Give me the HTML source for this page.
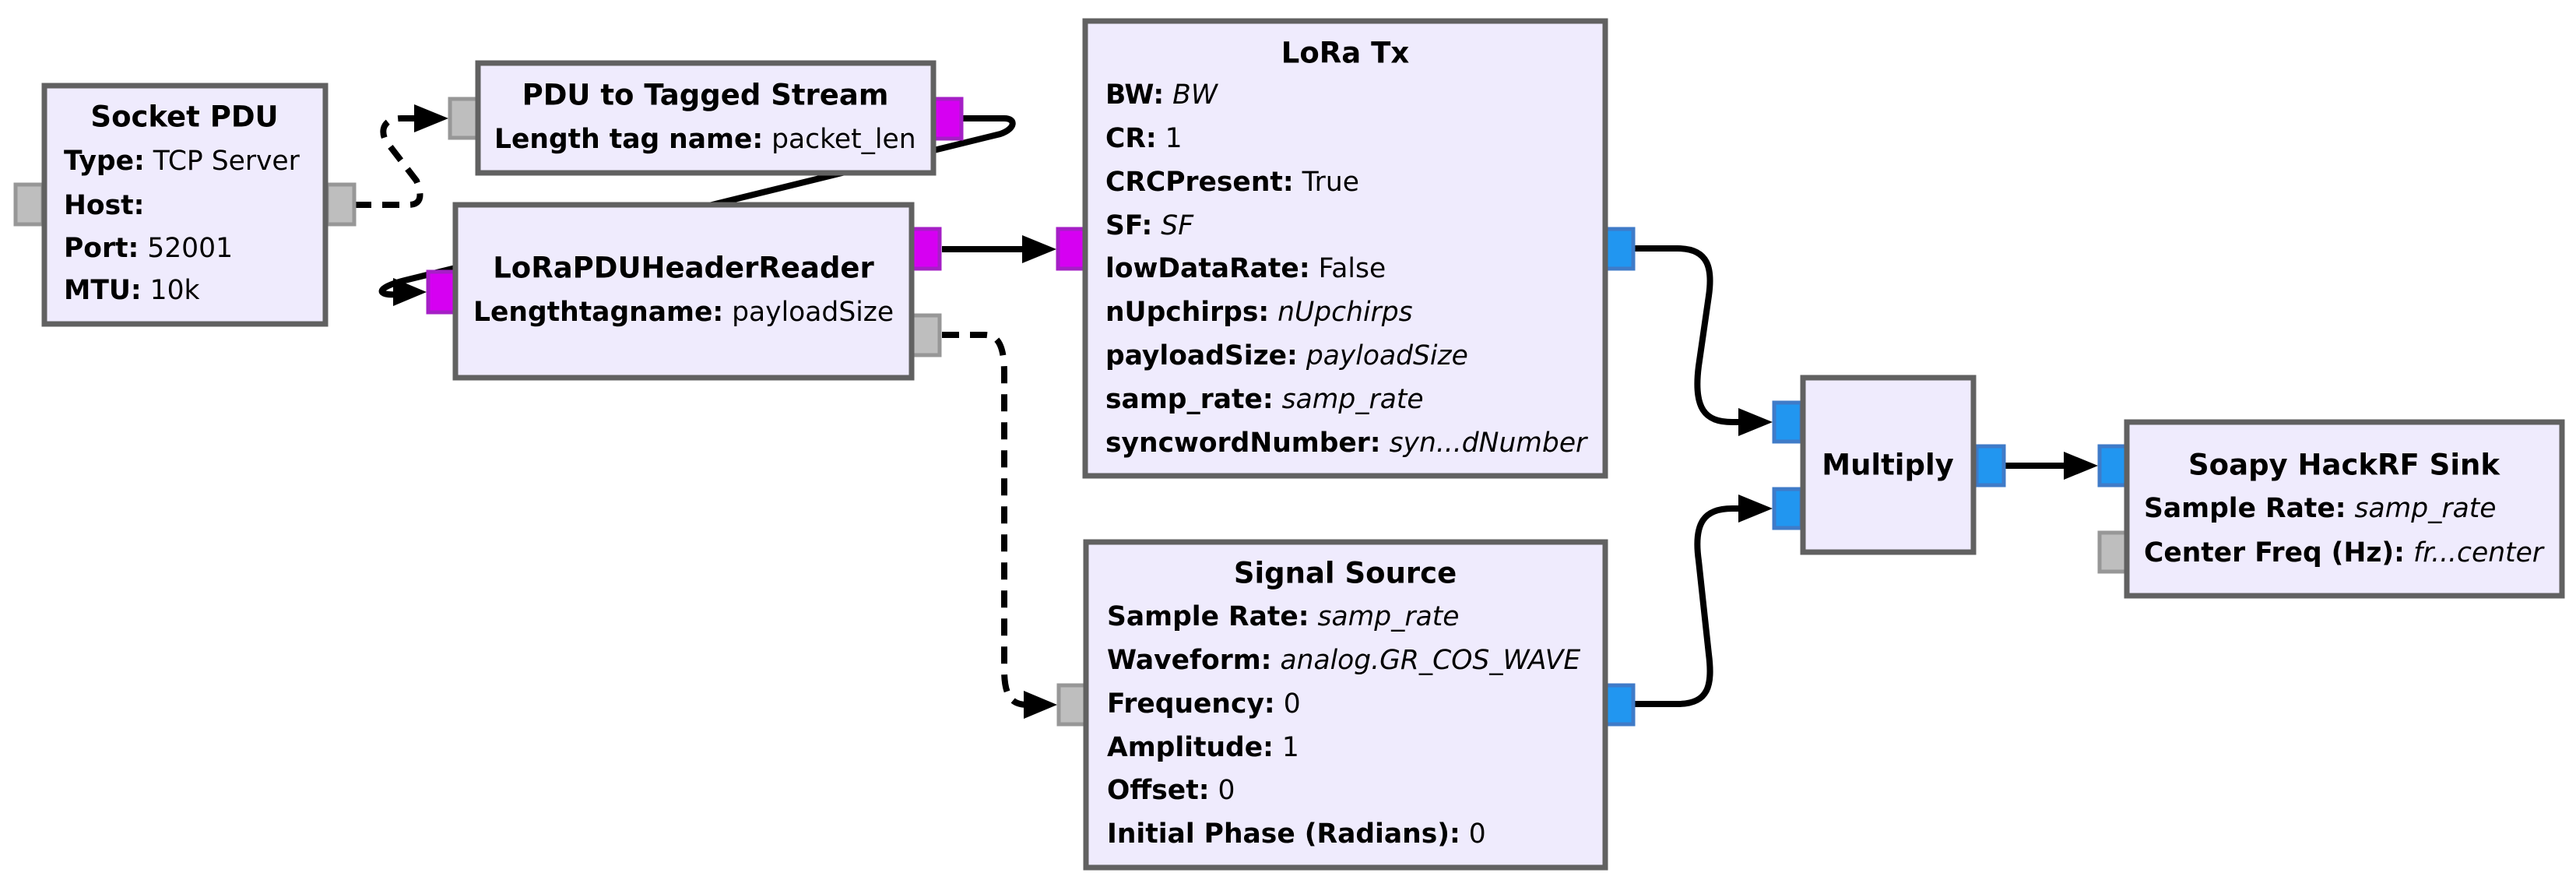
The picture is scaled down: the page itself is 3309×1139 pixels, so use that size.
<!DOCTYPE html>
<html><head><meta charset="utf-8"><style>
html,body{margin:0;padding:0;background:#fff;}
svg{display:block;}
text{font-family:"DejaVu Sans","Liberation Sans",sans-serif;font-size:34.5px;fill:#000;dominant-baseline:central;}
.t{font-weight:bold;text-anchor:middle;font-size:37px;}
.k{font-weight:bold;}
.i{font-style:italic;}
.box{fill:#EFEBFD;stroke:#616161;stroke-width:7;}
.mg{fill:#D600F2;stroke:#A51FC6;stroke-width:5;}
.gr{fill:#BEBEBE;stroke:#979797;stroke-width:5;}
.bl{fill:#2196F0;stroke:#3F7BC8;stroke-width:5;}
.w{fill:none;stroke:#000;stroke-width:8;}
.d{fill:none;stroke:#000;stroke-width:8;stroke-dasharray:22 14;}
</style></head><body>
<svg width="3309" height="1139" viewBox="0 0 3309 1139" xmlns="http://www.w3.org/2000/svg">
<path class="d" d="M455,263 L525,263 C545,263 540,245 535,232 L495,180 C488,165 495,152 515,152 L535,152"/>
<polygon points="532,134 576,152 532,170"/>
<path class="w" d="M1237,152 L1290,152 C1305,152 1305,165 1285,172 L520,360 C480,370 485,380 510,378"/>
<polygon points="505,357 548,375 505,393"/>
<path class="w" d="M1210,320 L1316,320"/>
<polygon points="1313,302 1357,320 1313,338"/>
<path class="d" d="M1210,430 L1265,430 C1285,430 1290,450 1290,480 L1290,860 C1290,895 1300,905 1320,905 L1330,905"/>
<polygon points="1315,887 1358,905 1315,923"/>
<path class="w" d="M2100,319 L2155,319 C2195,319 2200,345 2195,380 L2182,470 C2175,525 2190,542 2225,542 L2240,542"/>
<polygon points="2233,524 2277,542 2233,560"/>
<path class="w" d="M2100,904 L2155,904 C2195,904 2200,880 2195,840 L2182,720 C2175,670 2190,653 2225,653 L2240,653"/>
<polygon points="2233,635 2277,653 2233,671"/>
<path class="w" d="M2576,598 L2655,598"/>
<polygon points="2651,580 2695,598 2651,616"/>

<rect class="gr" x="20" y="237" width="35" height="51"/>
<rect class="gr" x="420" y="237" width="35" height="51"/>
<rect class="box" x="57" y="110" width="361" height="306"/>
<text class="t" x="237" y="150">Socket PDU</text>
<text x="82" y="207"><tspan class="k">Type:</tspan> TCP Server</text>
<text x="82" y="264"><tspan class="k">Host:</tspan></text>
<text x="82" y="319"><tspan class="k">Port:</tspan> 52001</text>
<text x="82" y="373"><tspan class="k">MTU:</tspan> 10k</text>

<rect class="gr" x="578" y="127" width="36" height="50"/>
<rect class="mg" x="1199" y="127" width="36" height="51"/>
<rect class="box" x="614" y="81" width="585" height="141"/>
<text class="t" x="906" y="122">PDU to Tagged Stream</text>
<text x="635" y="179"><tspan class="k">Length tag name:</tspan> packet_len</text>

<rect class="mg" x="550" y="349" width="35" height="52"/>
<rect class="mg" x="1172" y="294" width="35" height="51"/>
<rect class="gr" x="1172" y="405" width="35" height="51"/>
<rect class="box" x="585" y="263" width="586" height="222"/>
<text class="t" x="878" y="344">LoRaPDUHeaderReader</text>
<text x="608" y="401"><tspan class="k">Lengthtagname:</tspan> payloadSize</text>

<rect class="mg" x="1359" y="294" width="35" height="51"/>
<rect class="bl" x="2062" y="294" width="36" height="51"/>
<rect class="box" x="1394" y="27" width="668" height="584"/>
<text class="t" x="1728" y="68">LoRa Tx</text>
<text x="1420" y="122"><tspan class="k">BW:</tspan> <tspan class="i">BW</tspan></text>
<text x="1420" y="178"><tspan class="k">CR:</tspan> 1</text>
<text x="1420" y="234"><tspan class="k">CRCPresent:</tspan> True</text>
<text x="1420" y="290"><tspan class="k">SF:</tspan> <tspan class="i">SF</tspan></text>
<text x="1420" y="345"><tspan class="k">lowDataRate:</tspan> False</text>
<text x="1420" y="401"><tspan class="k">nUpchirps:</tspan> <tspan class="i">nUpchirps</tspan></text>
<text x="1420" y="457"><tspan class="k">payloadSize:</tspan> <tspan class="i">payloadSize</tspan></text>
<text x="1420" y="513"><tspan class="k">samp_rate:</tspan> <tspan class="i">samp_rate</tspan></text>
<text x="1420" y="569"><tspan class="k">syncwordNumber:</tspan> <tspan class="i">syn...dNumber</tspan></text>

<rect class="gr" x="1360" y="880" width="34" height="50"/>
<rect class="bl" x="2062" y="880" width="36" height="50"/>
<rect class="box" x="1395" y="696" width="667" height="418"/>
<text class="t" x="1728" y="736">Signal Source</text>
<text x="1422" y="792"><tspan class="k">Sample Rate:</tspan> <tspan class="i">samp_rate</tspan></text>
<text x="1422" y="848"><tspan class="k">Waveform:</tspan> <tspan class="i">analog.GR_COS_WAVE</tspan></text>
<text x="1422" y="904"><tspan class="k">Frequency:</tspan> 0</text>
<text x="1422" y="960"><tspan class="k">Amplitude:</tspan> 1</text>
<text x="1422" y="1015"><tspan class="k">Offset:</tspan> 0</text>
<text x="1422" y="1071"><tspan class="k">Initial Phase (Radians):</tspan> 0</text>

<rect class="bl" x="2279" y="517" width="35" height="50"/>
<rect class="bl" x="2279" y="628" width="35" height="50"/>
<rect class="bl" x="2539" y="573" width="35" height="50"/>
<rect class="box" x="2316" y="485" width="219" height="224"/>
<text class="t" x="2425" y="597">Multiply</text>

<rect class="bl" x="2697" y="573" width="35" height="50"/>
<rect class="gr" x="2697" y="684" width="35" height="50"/>
<rect class="box" x="2732" y="542" width="559" height="223"/>
<text class="t" x="3011" y="597">Soapy HackRF Sink</text>
<text x="2754" y="653"><tspan class="k">Sample Rate:</tspan> <tspan class="i">samp_rate</tspan></text>
<text x="2754" y="710"><tspan class="k">Center Freq (Hz):</tspan> <tspan class="i">fr...center</tspan></text>
</svg>
</body></html>
